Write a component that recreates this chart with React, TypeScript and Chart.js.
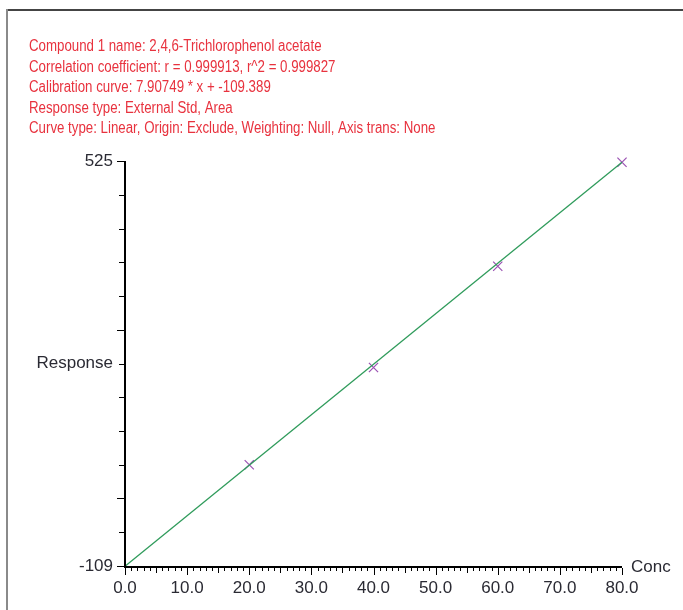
import { useEffect, useRef } from "react";
import { Chart, ChartConfiguration, Plugin } from "chart.js/auto";

/* ---------------- Data ---------------- */

const headerLines = [
  "Compound 1 name: 2,4,6-Trichlorophenol acetate",
  "Correlation coefficient: r = 0.999913, r^2 = 0.999827",
  "Calibration curve: 7.90749 * x + -109.389",
  "Response type: External Std, Area",
  "Curve type: Linear, Origin: Exclude, Weighting: Null, Axis trans: None",
];

// calibration standards
const stdConc = [20, 40, 60, 80];
const stdResponse = [49.5, 201.7, 360.2, 523.0];

// fitted line end points
const fitConc = [0, 80];
const fitResponse = [-109.4, 523.2];

const xMin = 0;
const xMax = 80;
const yMin = -109;
const yMax = 525;
const yTickCount = 13;

const xTickLabels = ["0.0", "10.0", "20.0", "30.0", "40.0", "50.0", "60.0", "70.0", "80.0"];
const yLabelIndex = [0, 6, 12];
const yLabelText = ["-109", "Response", "525"];
const yLongTicks = [0, 2, 7, 12];

const xAxisTitle = "Conc";

const labelFont = "'Liberation Sans', Arial, sans-serif";

/* ---------------- Plugins ---------------- */

// red header block, drawn in a narrow (condensed) face
const headerPlugin: Plugin<"scatter"> = {
  id: "calHeader",
  afterDraw(chart) {
    const { ctx } = chart;
    ctx.save();
    ctx.fillStyle = "#e8323e";
    ctx.font = `16px ${labelFont}`;
    ctx.textAlign = "left";
    ctx.textBaseline = "middle";
    ctx.translate(29, 0);
    ctx.scale(0.83, 1);
    headerLines.forEach((line, i) => {
      ctx.fillText(line, 0, 47 + i * 20.5);
    });
    ctx.restore();
  },
};

const axisPlugin: Plugin<"scatter"> = {
  id: "calAxes",
  afterDraw(chart) {
    const { ctx, chartArea } = chart;
    const xs = chart.scales.x;
    const ys = chart.scales.y;
    const { left, right, top, bottom } = chartArea;

    ctx.save();
    ctx.strokeStyle = "#000";

    // axis lines
    ctx.lineWidth = 2;
    ctx.beginPath();
    ctx.moveTo(left, top);
    ctx.lineTo(left, bottom + 1);
    ctx.lineTo(right, bottom + 1);
    ctx.stroke();

    // x ticks
    ctx.lineWidth = 1;
    ctx.beginPath();
    xs.ticks.forEach((t) => {
      const v = Math.round(t.value);
      const px = Math.round(xs.getPixelForValue(t.value)) + 0.5;
      const len = v % 10 === 0 ? 7 : v % 5 === 0 ? 5 : 3;
      ctx.moveTo(px, bottom + 2);
      ctx.lineTo(px, bottom + 2 + len);
    });
    ctx.stroke();

    // y ticks
    ctx.beginPath();
    ys.ticks.forEach((t, i) => {
      const py = Math.round(ys.getPixelForValue(t.value)) + 0.5;
      const len = yLongTicks.includes(i) ? 7 : 5;
      ctx.moveTo(left - 1, py);
      ctx.lineTo(left - 1 - len, py);
    });
    ctx.stroke();

    // x axis title at the end of the axis
    ctx.fillStyle = "#2a2a33";
    ctx.font = `17px ${labelFont}`;
    ctx.textAlign = "left";
    ctx.textBaseline = "middle";
    ctx.fillText(xAxisTitle, right + 9, bottom + 1);

    ctx.restore();
  },
};

/* ---------------- Component ---------------- */

const CalibrationChart = () => {
  const canvasRef = useRef<HTMLCanvasElement | null>(null);
  const chartRef = useRef<Chart<"scatter"> | null>(null);

  useEffect(() => {
    if (!canvasRef.current) return;
    if (chartRef.current) chartRef.current.destroy();

    const config: ChartConfiguration<"scatter"> = {
      type: "scatter",
      data: {
        datasets: [
          {
            type: "line",
            label: "fit",
            data: fitConc.map((x, i) => ({ x, y: fitResponse[i] })),
            borderColor: "#2f9b5b",
            borderWidth: 1.3,
            pointRadius: 0,
            fill: false,
            clip: false,
          } as any,
          {
            label: "standards",
            data: stdConc.map((x, i) => ({ x, y: stdResponse[i] })),
            pointStyle: "crossRot",
            pointRadius: 6.5,
            borderColor: "#9b52b3",
            backgroundColor: "#9b52b3",
            borderWidth: 1.2,
            clip: false,
          },
        ],
      },
      options: {
        responsive: false,
        animation: false,
        layout: {
          padding: { left: 29, right: 61, top: 161, bottom: 0 },
        },
        plugins: {
          legend: { display: false },
          tooltip: { enabled: false },
          title: { display: false },
        },
        scales: {
          x: {
            type: "linear",
            min: xMin,
            max: xMax,
            grid: { display: false, drawTicks: false },
            border: { display: false },
            afterFit: (scale) => {
              scale.height = 44;
            },
            ticks: {
              stepSize: 1,
              autoSkip: false,
              maxRotation: 0,
              padding: 12,
              color: "#2a2a33",
              font: { family: labelFont, size: 17 },
              callback: (value) => {
                const v = Math.round(Number(value));
                return v % 10 === 0 ? xTickLabels[v / 10] : "";
              },
            },
          },
          y: {
            type: "linear",
            min: yMin,
            max: yMax,
            grid: { display: false, drawTicks: false },
            border: { display: false },
            afterFit: (scale) => {
              scale.width = 96;
            },
            ticks: {
              count: yTickCount,
              autoSkip: false,
              padding: 12,
              color: "#2a2a33",
              font: { family: labelFont, size: 17 },
              callback: (_value, index) => {
                const k = yLabelIndex.indexOf(index);
                return k >= 0 ? yLabelText[k] : "";
              },
            },
          },
        },
      },
      plugins: [headerPlugin, axisPlugin],
    };

    chartRef.current = new Chart(canvasRef.current, config);

    return () => {
      if (chartRef.current) {
        chartRef.current.destroy();
        chartRef.current = null;
      }
    };
  }, []);

  return (
    <div
      style={{
        position: "absolute",
        left: 0,
        top: 0,
        width: 683,
        height: 610,
        background: "#fff",
        overflow: "hidden",
      }}
    >
      {/* window frame */}
      <div
        style={{
          position: "absolute",
          left: 6,
          top: 9,
          width: 677,
          height: 2,
          background: "#444",
        }}
      />
      <div
        style={{
          position: "absolute",
          left: 6,
          top: 9,
          width: 2,
          height: 601,
          background: "#8a8a8a",
        }}
      />
      <canvas
        ref={canvasRef}
        width={683}
        height={610}
        style={{ position: "absolute", left: 0, top: 0 }}
      ></canvas>
    </div>
  );
};

export default function App() {
  return <CalibrationChart />;
}
